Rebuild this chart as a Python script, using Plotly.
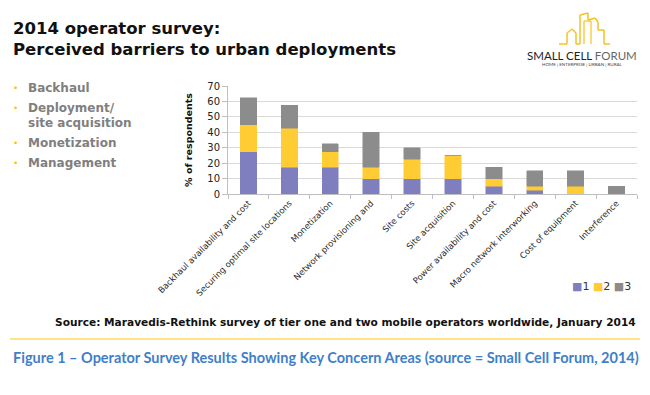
import plotly.graph_objects as go

categories = [
    "Backhaul availability and cost",
    "Securing optimal site locations",
    "Monetization",
    "Network provisioning and",
    "Site costs",
    "Site acquisition",
    "Power availability and cost",
    "Macro network interworking",
    "Cost of equipment",
    "Interference",
]
series_names = ["1", "2", "3"]
rank1 = [27.5, 17.5, 17.5, 10, 10, 10, 5, 2.5, 0, 0]
rank2 = [17.5, 25, 10, 7.5, 12.5, 15, 5, 2.5, 5, 0]
rank3 = [17.5, 15, 5, 22.5, 7.5, 0, 7.5, 10, 10, 5]
y_ticks = [0, 10, 20, 30, 40, 50, 60, 70]
bullets = ["Backhaul", "Deployment/", "site acquisition", "Monetization", "Management"]
bullet_marks = [True, True, False, True, True]

colors = ["#7F7FC0", "#FFCC33", "#8C8C8C"]
FONT = "DejaVu Sans, Verdana, sans-serif"

L, R, T, B = 228, 637, 86, 194

fig = go.Figure()
for name, vals, col in zip(series_names, [rank1, rank2, rank3], colors):
    fig.add_trace(go.Bar(
        x=categories, y=vals, name=name,
        marker=dict(color=col, line=dict(color=col, width=0.5)),
        width=0.4,
    ))

fig.update_layout(
    width=650, height=395,
    barmode="stack",
    paper_bgcolor="white", plot_bgcolor="white",
    margin=dict(l=L, r=650 - R, t=T, b=395 - B, autoexpand=False),
    font=dict(family=FONT, color="#222222"),
    showlegend=False,
    xaxis=dict(
        tickangle=-45, tickfont=dict(size=8.5, color="#2A2A2A", family=FONT),
        showline=True, linecolor="#BFBFBF", linewidth=1,
        ticks="outside", tickson="boundaries", ticklen=4, tickcolor="#BFBFBF",
        showgrid=False,
    ),
    yaxis=dict(
        range=[0, 70], tickvals=y_ticks,
        tickfont=dict(size=10, color="#222222", family=FONT),
        showline=True, linecolor="#BFBFBF", linewidth=1,
        ticks="outside", ticklen=5, tickcolor="#BFBFBF",
        showgrid=True, gridcolor="#D9D9D9", gridwidth=1,
        title=dict(text="<b>% of respondents</b>", font=dict(size=9.5, color="#111111"), standoff=12),
        zeroline=False,
    ),
)

def px(x):
    return (x - L) / (R - L)

def py(y):
    return (B - y) / (B - T)

ann = [
    dict(text="<b>2014 operator survey:<br>Perceived barriers to urban deployments</b>",
         x=px(11), y=py(39), xref="paper", yref="paper", showarrow=False,
         xanchor="left", yanchor="middle", align="left",
         font=dict(size=16.5, color="#111111", family=FONT)),
]
bullet_y = [88, 108, 123, 143, 163]
for txt, yy, mark in zip(bullets, bullet_y, bullet_marks):
    ann.append(dict(text="<b>" + txt + "</b>", x=px(26), y=py(yy), xref="paper", yref="paper",
                    showarrow=False, xanchor="left", yanchor="middle",
                    align="left", font=dict(size=12, color="#7F7F7F", family=FONT)))
    if mark:
        ann.append(dict(text="•", x=px(15), y=py(yy), xref="paper", yref="paper",
                        showarrow=False, xanchor="center", yanchor="middle",
                        font=dict(size=9, color="#FFC000", family=FONT)))
ann.append(dict(text="<b>Source: Maravedis-Rethink survey of tier one and two mobile operators worldwide, January 2014</b>",
                x=px(638), y=py(322), xref="paper", yref="paper", showarrow=False,
                xanchor="right", yanchor="middle", font=dict(size=10.6, color="#111111", family=FONT)))
ann.append(dict(text="<b>Figure 1 – Operator Survey Results Showing Key Concern Areas (source = Small Cell Forum, 2014)</b>",
                x=px(11), y=py(357), xref="paper", yref="paper", showarrow=False,
                xanchor="left", yanchor="middle", font=dict(size=14.5, color="#3F7FC8", family="Lato, Open Sans, sans-serif")))
ann.append(dict(text="SMALL CELL <span style='color:#666666'>FORUM</span>",
                x=px(582), y=py(55), xref="paper", yref="paper", showarrow=False,
                xanchor="center", yanchor="middle", font=dict(size=11.5, color="#222222", family="Lato, sans-serif")))
ann.append(dict(text="HOME | ENTERPRISE | URBAN | RURAL",
                x=px(582), y=py(64), xref="paper", yref="paper", showarrow=False,
                xanchor="center", yanchor="middle", font=dict(size=4.5, color="#444444", family="Lato, sans-serif")))
legend_txt = "".join(
    "<span style='color:%s'>■</span>%s " % (c, n) for c, n in zip(colors, series_names)).strip()
ann.append(dict(text=legend_txt, x=px(633), y=py(286), xref="paper", yref="paper", showarrow=False,
                xanchor="right", yanchor="middle", font=dict(size=11, color="#333333", family=FONT)))
fig.update_layout(annotations=ann)

def P(x, y):
    return px(x), py(y)

shapes = []
def seg(pa, pb, color, width):
    x0, y0 = P(*pa)
    x1, y1 = P(*pb)
    shapes.append(dict(type="line", xref="paper", yref="paper", x0=x0, y0=y0, x1=x1, y1=y1,
                       line=dict(color=color, width=width)))

seg((10, 339), (640, 339), "#FFD966", 1.5)
logo_pts = [(559, 44), (567, 44), (567, 33), (572, 29), (576, 33), (576, 44), (580, 44),
            (580, 15), (588, 13), (588, 20), (595, 18), (598, 22), (598, 30), (604, 30), (604, 44), (610, 44)]
for a, b in zip(logo_pts[:-1], logo_pts[1:]):
    seg(a, b, "#F6C223", 1.5)
logo2 = [(584, 44), (584, 21), (591, 21), (591, 44)]
for a, b in zip(logo2[:-1], logo2[1:]):
    seg(a, b, "#F6C223", 1.2)
fig.update_layout(shapes=shapes)

fig.write_html("out.html", config={"displayModeBar": False},
               post_script="document.body.style.margin='0';document.body.style.overflow='hidden';")
